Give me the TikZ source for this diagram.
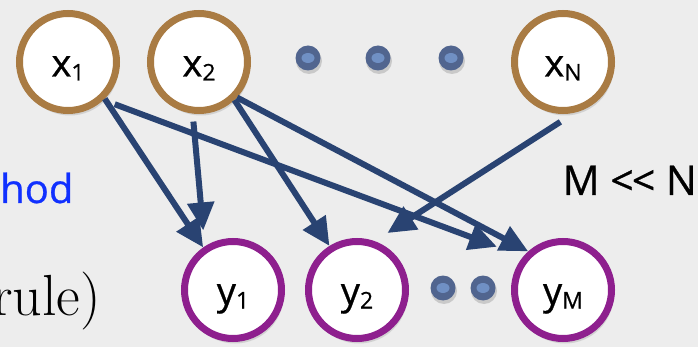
\documentclass[tikz,border=0pt]{standalone}
\usepackage{fontspec}
\usepackage{xcolor}
\usetikzlibrary{positioning,arrows.meta,shadows}
\newfontfamily\chalkfont{Open Sans}[FakeBold=0.7]
\definecolor{nodebrown}{HTML}{A97B43}
\definecolor{nodepurple}{HTML}{8E1F8E}
\definecolor{edgeblue}{HTML}{294372}
\definecolor{dotblue}{HTML}{51658F}
\definecolor{dotlight}{HTML}{7090C4}
\definecolor{bggray}{HTML}{EDEDED}
\definecolor{textblue}{HTML}{1030FF}
\newcommand{\lowsub}[1]{\raisebox{-4pt}{\fontsize{23}{23}\selectfont #1}}

\begin{document}
\begin{tikzpicture}[
    x=1pt, y=-1pt,
    node distance=27pt and 27pt,
    var/.style={circle, draw, line width=7pt, fill=white, minimum size=97pt, inner sep=0pt, text height=29pt, text depth=0pt, font=\chalkfont\fontsize{38}{38}\selectfont, drop shadow={opacity=0.25, shadow xshift=2pt, shadow yshift=-5pt}},
    xvar/.style={var, draw=nodebrown},
    yvar/.style={var, draw=nodepurple},
    arrow/.style={-{Triangle[length=28pt, width=26pt]}, line width=6pt, draw=edgeblue},
    label/.style={inner sep=0pt}
  ]
    \useasboundingbox (0,0) rectangle (698,347);
    \fill[bggray] (0,0) rectangle (698,347);

    \node[xvar] (x1) at (68,62) {x\lowsub{1}};
    \node[xvar, right=of x1] (x2) {x\lowsub{2}};
    \node[xvar] (xN) at (563,62) {x\lowsub{N}};
    \node[yvar] (y1) at (233,290) {y\lowsub{1}};
    \node[yvar, right=20pt of y1] (y2) {y\lowsub{2}};
    \node[yvar] (yM) at (563,290) {y\lowsub{M}};

    \foreach \px in {308,378,451} {
      \fill[black, opacity=0.15] (\px+1,61) circle[radius=13pt];
      \fill[dotblue] (\px,58) circle[radius=12.5pt];
      \fill[dotlight] (\px,58) ellipse[x radius=6.5pt, y radius=5pt];
    }
    \foreach \px in {443,483} {
      \fill[black, opacity=0.15] (\px+1,291) circle[radius=13pt];
      \fill[dotblue] (\px,288) circle[radius=12.5pt];
      \fill[dotlight] (\px,288) ellipse[x radius=6.5pt, y radius=5pt];
    }

    \node[label, anchor=base west, text=textblue, font=\chalkfont\fontsize{40}{40}\selectfont] (hod) at (0,203) {hod};
    \node[label, anchor=base east, font=\fontsize{58}{58}\selectfont] (rule) at (101,315) {rule)};
    \node[label, anchor=base east, font=\chalkfont\fontsize{41}{41}\selectfont] (ratio) at (697,195) {M <\kern-2pt< N};

    \draw[arrow] (x1.-45) -- (y1.125);
    \draw[arrow, shorten <=12pt, shorten >=28pt] (x1.-47) -- (yM.140);
    \draw[arrow, shorten <=8pt, shorten >=16pt] (x2.-97) -- (y1.123);
    \draw[arrow] (x2.-47) -- (y2.122);
    \draw[arrow] (x2.-43) -- (yM.132);
    \draw[arrow, shorten <=17pt, shorten >=15pt] (xN.-77) -- (y2.70);
  \end{tikzpicture}
\end{document}
